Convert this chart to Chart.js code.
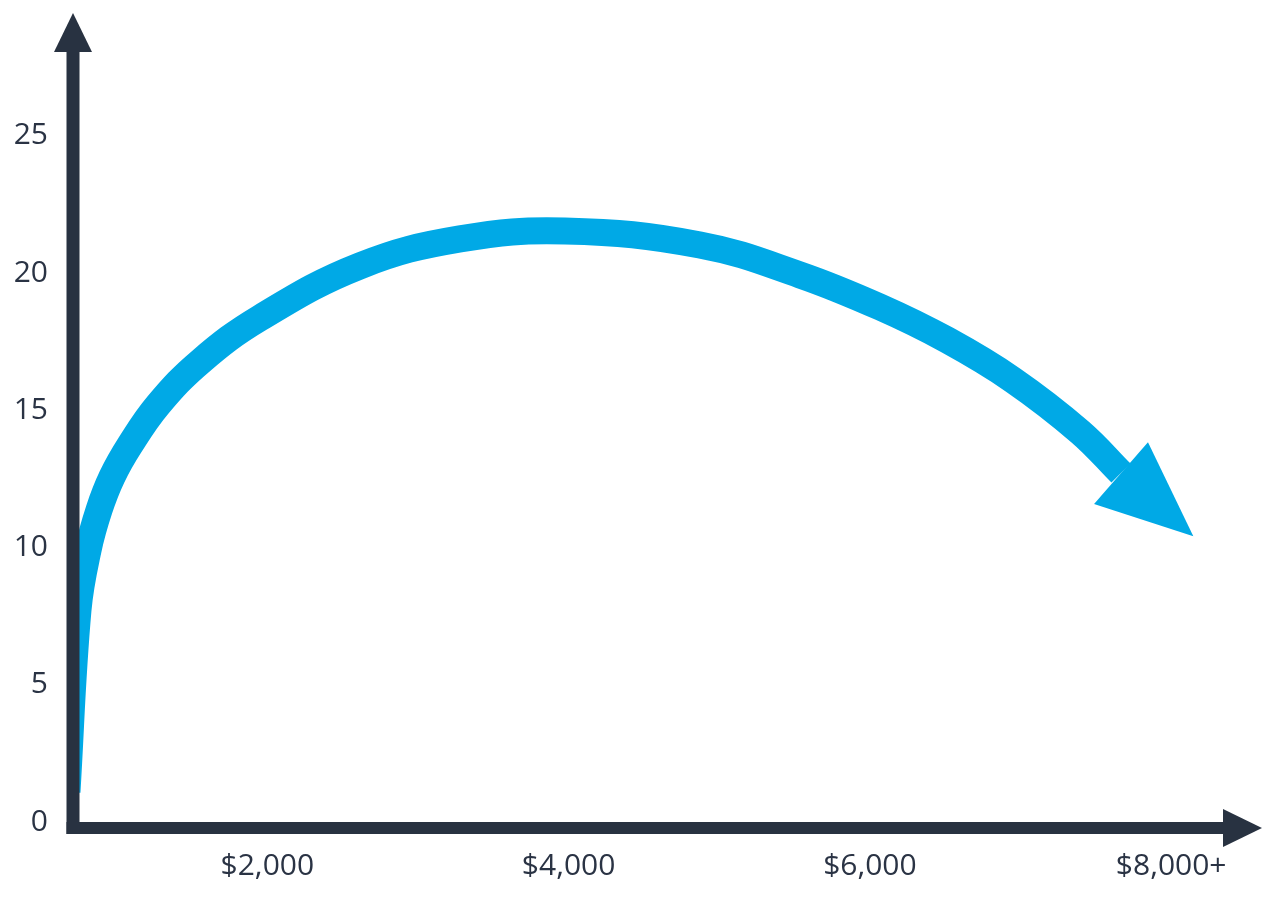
<!DOCTYPE html>
<html>
  <head>
    <meta charset="utf-8" />
    <title>Curve</title>
    <script src="https://cdn.jsdelivr.net/npm/chart.js"></script>
    <style>
      * {
        box-sizing: border-box;
        margin: 0;
        padding: 0;
      }
      body {
        background: #fff;
        width: 1268px;
        height: 898px;
        overflow: hidden;
      }
      #box {
        width: 1268px;
        height: 898px;
      }
    </style>
  </head>
  <body>
    <div id="box"><canvas id="curve"></canvas></div>
    <script>
      // price on the x axis, value on the y axis
      const prices = [670, 743, 810, 883, 969, 1088, 1274, 1553, 1951, 2615, 3279, 3976, 4872, 5536, 6067, 6512, 6950, 7395, 7667];
      const values = [1.09, 7.72, 9.91, 11.37, 12.57, 13.73, 15.19, 16.76, 18.36, 20.26, 21.24, 21.53, 21.02, 19.93, 18.76, 17.56, 16.1, 14.21, 12.71];
      const xTicks = [2000, 4000, 6000, 8000];
      const yTicks = [0, 5, 10, 15, 20, 25];

      const navy = "#283241";
      const blue = "#00a9e6";

      // axis lines with arrow heads + the head on the blue curve
      const arrows = {
        id: "arrows",
        afterDatasetsDraw(chart) {
          const { ctx, chartArea } = chart;
          const x0 = chartArea.left;
          const y0 = chartArea.bottom;

          // blue arrow head at the end of the curve
          const pts = chart.getDatasetMeta(0).data;
          const a = pts[pts.length - 2];
          const b = pts[pts.length - 1];
          const ang = Math.atan2(b.y - a.y, b.x - a.x) - 0.07;
          const len = 96, half = 41;
          ctx.save();
          ctx.fillStyle = blue;
          ctx.beginPath();
          ctx.moveTo(b.x + Math.cos(ang) * len, b.y + Math.sin(ang) * len);
          ctx.lineTo(b.x - Math.sin(ang) * half, b.y + Math.cos(ang) * half);
          ctx.lineTo(b.x + Math.sin(ang) * half, b.y - Math.cos(ang) * half);
          ctx.closePath();
          ctx.fill();

          // axes
          ctx.fillStyle = navy;
          ctx.fillRect(x0 - 6.5, chartArea.top, 13, y0 - chartArea.top + 6);
          ctx.fillRect(x0 - 6.5, y0 - 6, chartArea.right - x0 + 6.5, 12);
          ctx.beginPath();
          ctx.moveTo(x0, chartArea.top - 39);
          ctx.lineTo(x0 + 19, chartArea.top);
          ctx.lineTo(x0 - 19, chartArea.top);
          ctx.closePath();
          ctx.fill();
          ctx.beginPath();
          ctx.moveTo(chartArea.right + 39, y0);
          ctx.lineTo(chartArea.right, y0 - 19);
          ctx.lineTo(chartArea.right, y0 + 19);
          ctx.closePath();
          ctx.fill();
          ctx.restore();
        },
      };

      new Chart(document.getElementById("curve"), {
        type: "line",
        data: {
          datasets: [
            {
              data: prices.map((p, i) => ({ x: p, y: values[i] })),
              borderColor: blue,
              borderWidth: 27,
              borderCapStyle: "butt",
              borderJoinStyle: "round",
              tension: 0.4,
              pointRadius: 0,
              fill: false,
              clip: 0,
            },
          ],
        },
        options: {
          responsive: true,
          maintainAspectRatio: false,
          animation: false,
          layout: { padding: { top: 52, right: 45, left: 0, bottom: 0 } },
          plugins: {
            legend: { display: false },
            tooltip: { enabled: false },
          },
          scales: {
            x: {
              type: "linear",
              min: 710,
              max: 8344,
              afterBuildTicks: (scale) => {
                scale.ticks = xTicks.map((v) => ({ value: v }));
              },
              afterFit: (scale) => {
                scale.height = 70;
              },
              grid: { display: false, drawTicks: false },
              border: { display: false },
              ticks: {
                padding: 20,
                color: "#2a3344",
                font: { family: "'Open Sans'", size: 30 },
                maxRotation: 0,
                callback: (v) =>
                  "$" + v.toLocaleString("en-US") + (v === 8000 ? "+" : ""),
              },
            },
            y: {
              min: -0.22,
              max: 28.05,
              afterBuildTicks: (scale) => {
                scale.ticks = yTicks.map((v) => ({ value: v }));
              },
              afterFit: (scale) => {
                scale.width = 73;
              },
              grid: { display: false, drawTicks: false },
              border: { display: false },
              ticks: {
                padding: 25,
                color: "#2a3344",
                font: { family: "'Open Sans'", size: 30 },
              },
            },
          },
        },
        plugins: [arrows],
      });
    </script>
  </body>
</html>
